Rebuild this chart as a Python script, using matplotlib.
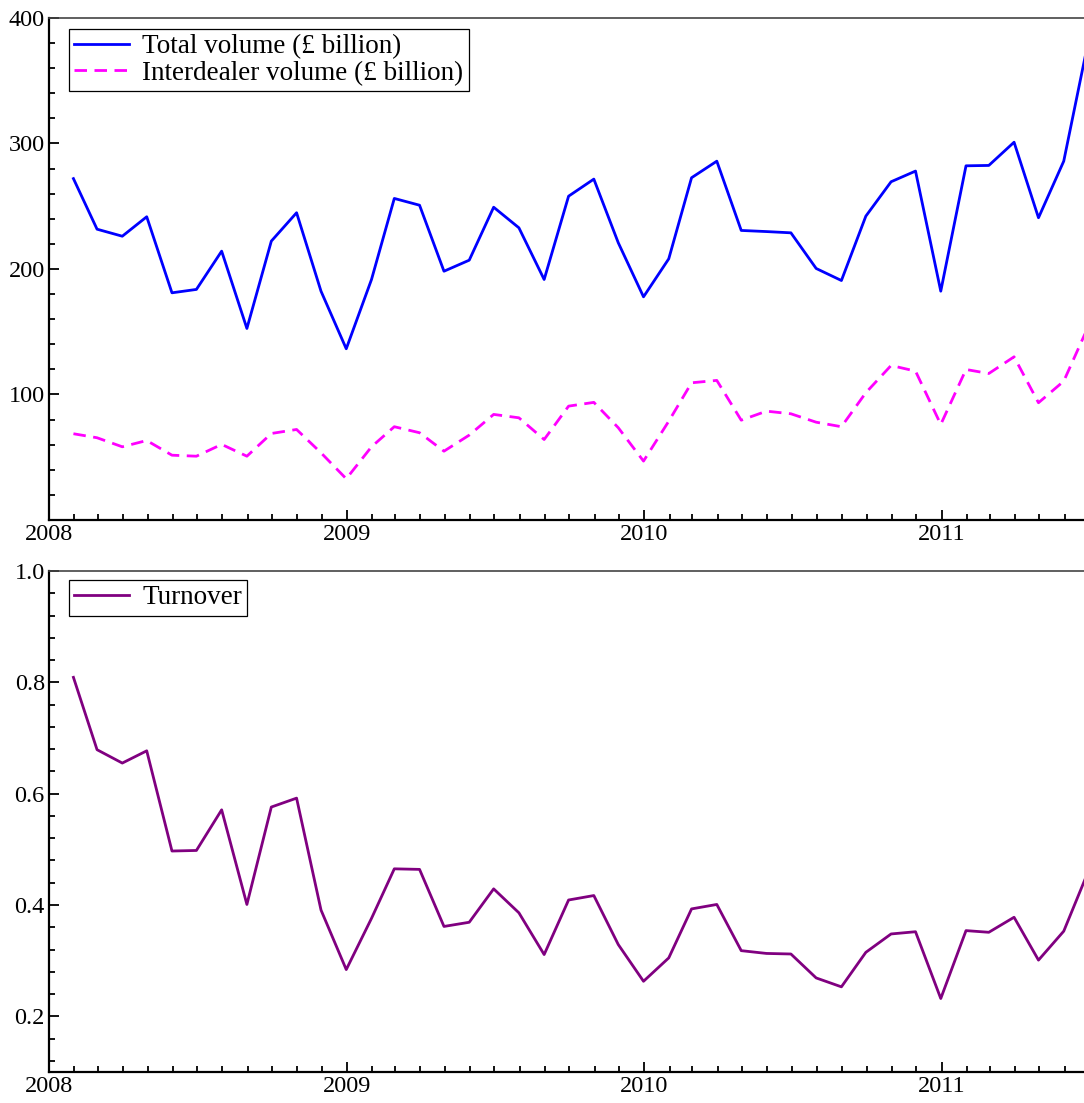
import pandas as pd
import matplotlib
matplotlib.use("Agg")
import matplotlib.pyplot as plt
import matplotlib.dates as mdates
from matplotlib.ticker import AutoMinorLocator

plt.rcParams['font.family'] = ['Liberation Serif', 'DejaVu Serif']

# monthly data, month ends Jan 2008 .. Jun 2011
dates = pd.date_range("2008-01-31", "2011-06-30", freq="ME")

total_volume = [272, 231.7, 226.1, 241.6, 181, 183.7, 214.2, 152.6, 222.2, 244.8, 182.3, 136.4,
                191.6, 256.2, 250.8, 198.2, 207, 249.2, 232.8, 191.6, 258, 271.6, 220.9, 177.8,
                208.1, 272.7, 285.9, 230.7, 229.8, 228.8, 200.4, 190.8, 242.1, 269.5, 278, 182.3,
                282.2, 282.5, 301, 240.8, 285.9, 381]

interdealer_volume = [68.7, 65.5, 58.3, 63.3, 51.6, 50.8, 60.2, 50.8, 68.9, 72.1, 53.5, 32.8,
                      58.3, 74.3, 69.5, 54.8, 67.6, 84.1, 81.4, 64.1, 90.7, 93.7, 73.5, 46.9,
                      78.7, 109.3, 111.2, 79.5, 86.7, 84.6, 77.9, 74.3, 101.4, 123.1, 118.6, 76.1,
                      119.9, 116.7, 130, 93.4, 110.6, 154]

turnover = [0.809, 0.679, 0.655, 0.677, 0.497, 0.498, 0.571, 0.401, 0.576, 0.592, 0.391, 0.284,
            0.376, 0.465, 0.464, 0.3615, 0.369, 0.429, 0.386, 0.311, 0.409, 0.417, 0.329, 0.263,
            0.305, 0.393, 0.401, 0.318, 0.313, 0.312, 0.269, 0.253, 0.315, 0.348, 0.352, 0.232,
            0.354, 0.351, 0.378, 0.301, 0.353, 0.46]

fig = plt.figure(figsize=(10.84, 11.03), dpi=100)
ax1 = fig.add_axes([0.0452, 0.5286, 0.9594, 0.4551])
ax2 = fig.add_axes([0.0452, 0.0281, 0.9594, 0.4542])


def style(ax):
    ax.spines['right'].set_visible(False)
    ax.spines['left'].set_linewidth(1.6)
    ax.spines['bottom'].set_linewidth(1.6)
    ax.spines['top'].set_linewidth(1.2)
    ax.spines['top'].set_color('#444444')
    ax.xaxis.set_major_locator(mdates.YearLocator())
    ax.xaxis.set_minor_locator(mdates.MonthLocator())
    ax.xaxis.set_major_formatter(mdates.DateFormatter('%Y'))
    ax.yaxis.set_minor_locator(AutoMinorLocator(5))
    ax.tick_params(which='both', direction='in', top=False, right=False, width=1.3, labelsize=17.5)
    ax.tick_params(which='major', length=7)
    ax.tick_params(axis='y', which='major', pad=3)
    ax.tick_params(axis='x', which='major', pad=3)
    ax.tick_params(which='minor', length=4.5)
    ax.set_xlim(pd.Timestamp("2008-01-01"), pd.Timestamp("2011-07-01"))


leg_kw = dict(loc='upper left', borderaxespad=0, fontsize=19.5, fancybox=False, framealpha=1,
              edgecolor='black', handlelength=2.0, borderpad=0.2, labelspacing=0.05,
              handletextpad=0.5)

ax1.plot(dates, total_volume, color='blue', lw=2, label='Total volume (£ billion)')
ax1.plot(dates, interdealer_volume, color='magenta', lw=2, ls=(0, (4.5, 2.7)),
         label='Interdealer volume (£ billion)')
style(ax1)
ax1.set_ylim(0, 400)
ax1.set_yticks([100, 200, 300, 400])
leg1 = ax1.legend(bbox_to_anchor=(0.0192, 0.978), **leg_kw)
leg1.get_frame().set_linewidth(0.9)

ax2.plot(dates, turnover, color='purple', lw=2, label='Turnover')
style(ax2)
ax2.set_ylim(0.1, 1.0)
ax2.set_yticks([0.2, 0.4, 0.6, 0.8, 1.0])
leg2 = ax2.legend(bbox_to_anchor=(0.0192, 0.982), **leg_kw)
leg2.get_frame().set_linewidth(0.9)

fig.savefig("out.png", dpi=100)
